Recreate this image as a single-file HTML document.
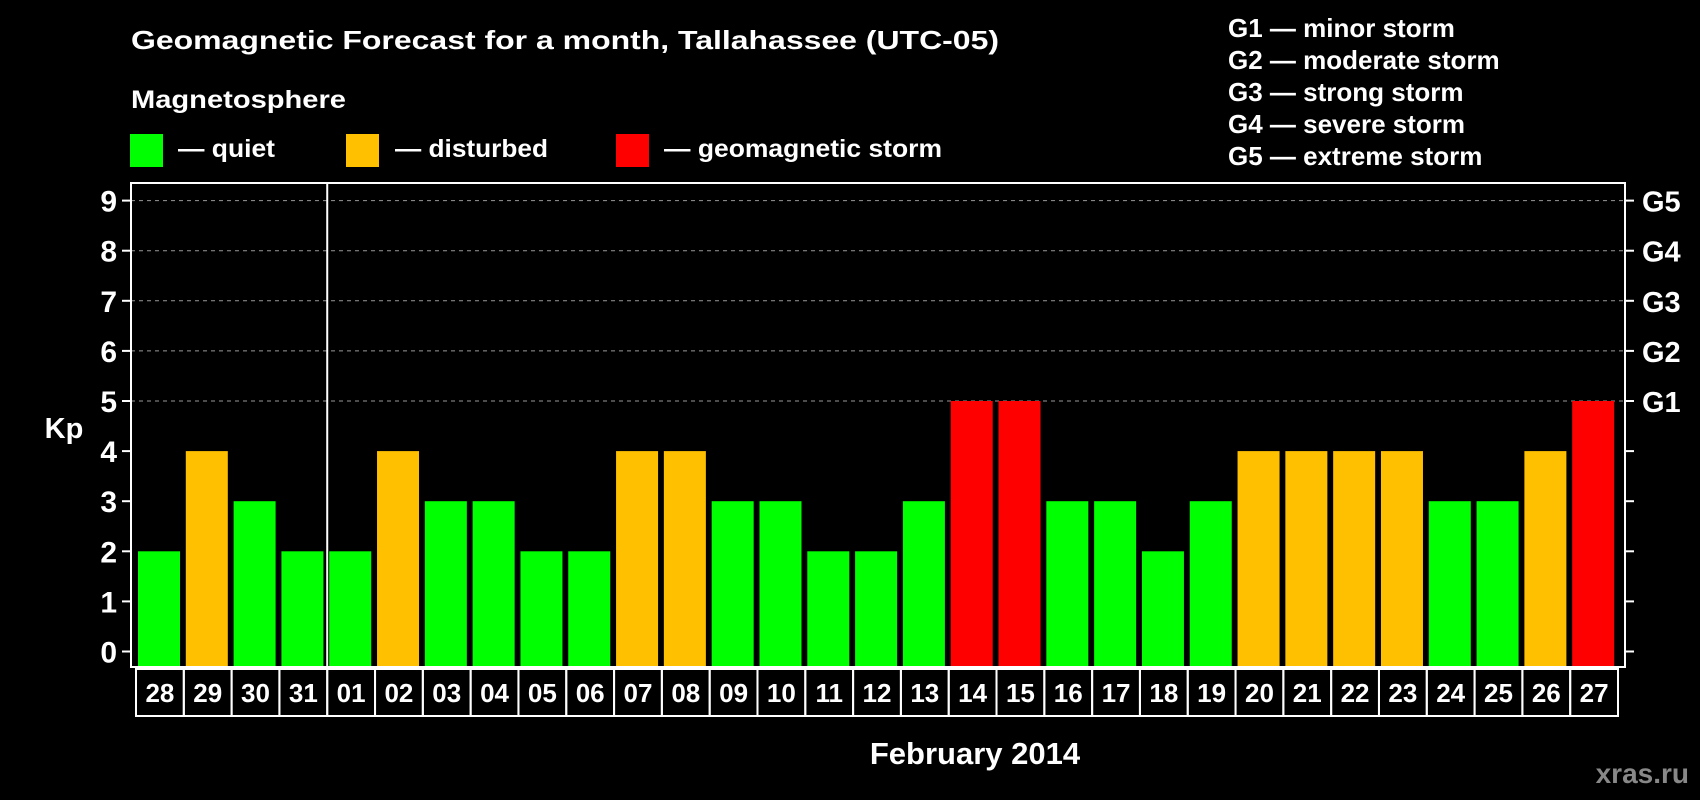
<!DOCTYPE html>
<html><head><meta charset="utf-8"><style>
html,body{margin:0;padding:0;background:#000;}
svg{display:block;font-family:"Liberation Sans",Arial,sans-serif;font-weight:bold;}
</style></head><body>
<svg id="chart" width="1700" height="800" viewBox="0 0 1700 800">
<rect x="0" y="0" width="1700" height="800" fill="#000"/>
<text x="131" y="49" fill="#fff" font-size="26" textLength="868" lengthAdjust="spacingAndGlyphs">Geomagnetic Forecast for a month, Tallahassee (UTC-05)</text>
<text x="131" y="108" fill="#fff" font-size="25" textLength="215" lengthAdjust="spacingAndGlyphs">Magnetosphere</text>
<g>
<rect x="130" y="134" width="33" height="33" fill="#00ff00"/>
<text x="178" y="157" fill="#fff" font-size="25" textLength="97" lengthAdjust="spacingAndGlyphs">— quiet</text>
</g>
<g>
<rect x="346" y="134" width="33" height="33" fill="#ffc000"/>
<text x="395" y="157" fill="#fff" font-size="25" textLength="153" lengthAdjust="spacingAndGlyphs">— disturbed</text>
</g>
<g>
<rect x="616" y="134" width="33" height="33" fill="#ff0000"/>
<text x="664" y="157" fill="#fff" font-size="25" textLength="278" lengthAdjust="spacingAndGlyphs">— geomagnetic storm</text>
</g>
<g font-size="26" fill="#fff">
<text x="1228" y="37">G1 — minor storm</text>
<text x="1228" y="69">G2 — moderate storm</text>
<text x="1228" y="101">G3 — strong storm</text>
<text x="1228" y="133">G4 — severe storm</text>
<text x="1228" y="165">G5 — extreme storm</text>
</g>
<g id="grid"></g>
<g id="bars"></g>
<g id="axes"></g>
<text x="64" y="438" fill="#fff" font-size="29" text-anchor="middle">Kp</text>
<text x="975" y="764" fill="#fff" font-size="31" text-anchor="middle">February 2014</text>
<text x="1689" y="783" fill="#888" font-size="28" text-anchor="end">xras.ru</text>
</svg>
<script>
const days = ["28","29","30","31","01","02","03","04","05","06","07","08","09","10","11","12","13","14","15","16","17","18","19","20","21","22","23","24","25","26","27"];
const kpValues = [2,4,3,2,2,4,3,3,2,2,4,4,3,3,2,2,3,5,5,3,3,2,3,4,4,4,4,3,3,4,5];
const yTicks = [0,1,2,3,4,5,6,7,8,9];
const gLabels = ["","","","","","G1","G2","G3","G4","G5"];

const NS="http://www.w3.org/2000/svg";
const plotL=131, plotR=1625, plotT=183, plotB=667;
const y0=651.5, unit=50.1, slot0=137, slotW=(1619-137)/days.length, barW=42;
const yScale=v=>y0-v*unit;
const xScale=i=>slot0+i*slotW;
function mk(tag,attrs,parent){const e=document.createElementNS(NS,tag);for(const k in attrs)e.setAttribute(k,attrs[k]);parent.appendChild(e);return e;}
const grid=document.getElementById('grid'), bars=document.getElementById('bars'), axes=document.getElementById('axes');

yTicks.forEach((t,i)=>{
  const y=yScale(t);
  if(t>=5){const gl=mk('line',{x1:plotL,x2:plotR,y1:y,y2:y,stroke:'#999','stroke-width':1,'stroke-dasharray':'4,4'},grid);
  
  }
  const tl=mk('line',{x1:plotL-9,x2:plotL,y1:y,y2:y,stroke:'#fff','stroke-width':2},axes);
  
  
  const tr=mk('line',{x1:plotR,x2:plotR+9,y1:y,y2:y,stroke:'#fff','stroke-width':2},axes);
  
  
  const lb=mk('text',{x:117,y:y+11,fill:'#fff','font-size':30,'text-anchor':'end'},axes);
  lb.textContent=t;
  
  
  if(gLabels[i]){const gt=mk('text',{x:1642,y:y+11,fill:'#fff','font-size':29},axes);
  gt.textContent=gLabels[i];
  
  }
});

const colorFor=v=>v>=5?'#ff0000':(v>=4?'#ffc000':'#00ff00');
kpValues.forEach((v,i)=>{
  const x=xScale(i)+1;
  const r=mk('rect',{x:x,y:yScale(v),width:barW,height:plotB-1-yScale(v),fill:colorFor(v)},bars);
  
  
  const c=mk('rect',{x:xScale(i)-1,y:plotB+2,width:slotW,height:47,fill:'none',stroke:'#fff','stroke-width':2},axes);
  
  
  const t=mk('text',{x:xScale(i)-1+slotW/2,y:plotB+35,fill:'#fff','font-size':26,'text-anchor':'middle'},axes);
  t.textContent=days[i];
  
  
});

const frame=mk('rect',{x:plotL,y:plotT,width:plotR-plotL,height:plotB-plotT,fill:'none',stroke:'#fff','stroke-width':2},axes);


const mIdx=days.indexOf("01");
const div=mk('line',{x1:xScale(mIdx)-1,x2:xScale(mIdx)-1,y1:plotT,y2:plotB,stroke:'#fff','stroke-width':2},axes);


</script>
</body></html>
